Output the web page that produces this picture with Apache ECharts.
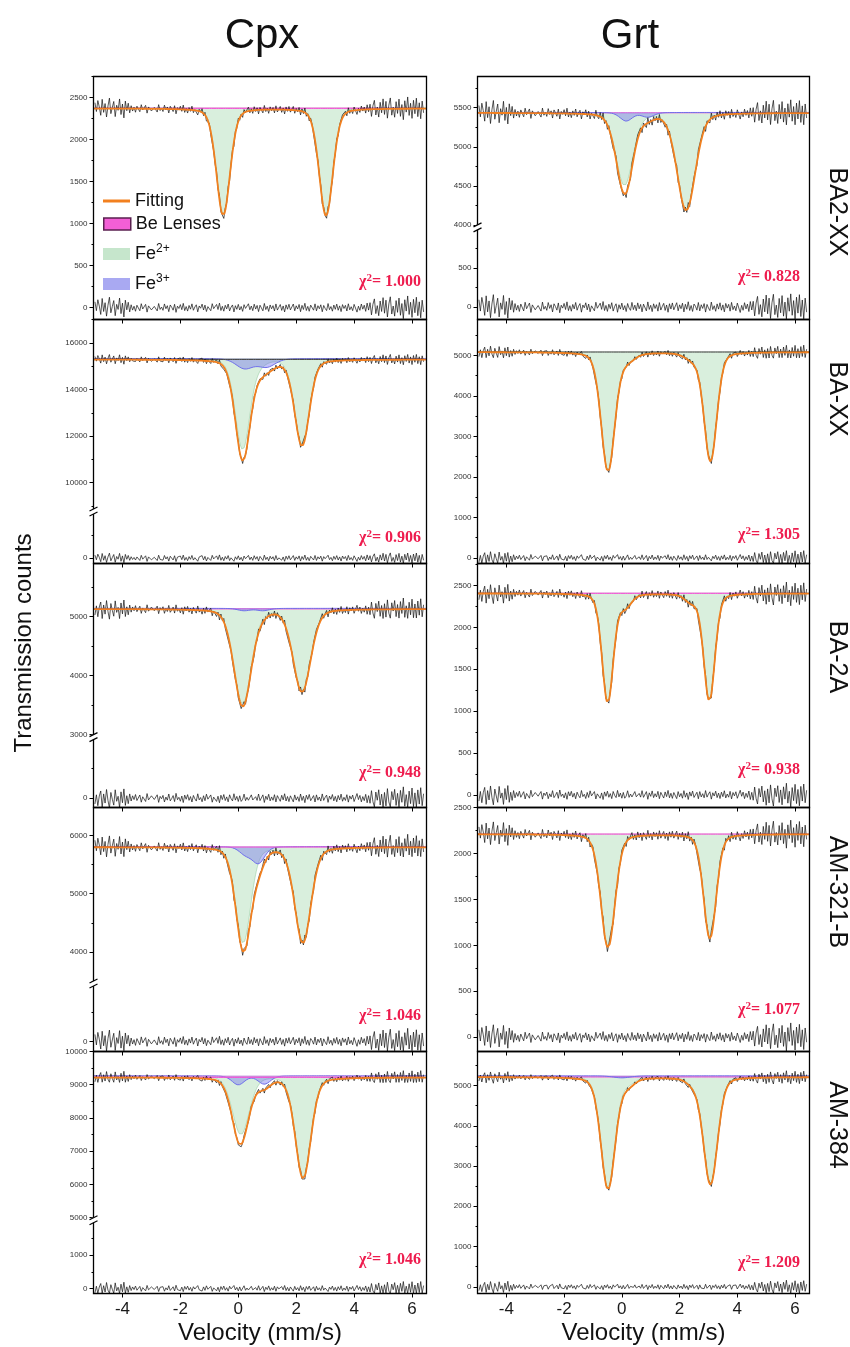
<!DOCTYPE html>
<html>
<head>
<meta charset="utf-8">
<title>Mössbauer spectra of Cpx and Grt</title>
<script src="https://cdn.jsdelivr.net/npm/echarts@6/dist/echarts.min.js"></script>
<style>
html, body { margin: 0; padding: 0; background: #fff; }
#chart { width: 850px; height: 1347px; }
</style>
</head>
<body>
<div id="chart"></div>
<script>
// ---------------- data ----------------
const samples = ['BA2-XX', 'BA-XX', 'BA-2A', 'AM-321-B', 'AM-384'];
const minerals = ['Cpx', 'Grt'];
const velocityTicks = [-4, -2, 0, 2, 4, 6];

const chiSquaredCpx = ['1.000', '0.906', '0.948', '1.046', '1.046'];
const chiSquaredGrt = ['0.828', '1.305', '0.938', '1.077', '1.209'];

// off-resonance background (counts) and Be-lens absorption below it
const backgroundCpx = [2385, 15335, 5140, 5810, 9270];
const backgroundGrt = [5440, 5100, 2415, 2218, 5240];
const beLensCpx = [15, 45, 10, 10, 50];
const beLensGrt = [5, 15, 10, 8, 30];

// fitted absorption lines: [position (mm/s), depth (counts), FWHM (mm/s)]
const fe2Cpx = [
  [[-0.52, 1270, 0.56], [3.03, 1275, 0.56]],
  [[0.15, 3900, 0.60], [2.20, 3700, 0.60], [0.75, 150, 0.50]],
  [[0.15, 1610, 0.72], [2.20, 1400, 0.72]],
  [[0.17, 1650, 0.62], [2.23, 1640, 0.66]],
  [[0.09, 1760, 0.69], [2.24, 3030, 0.63]]
];
const fe3Cpx = [
  [],
  [[0.22, 430, 0.70], [0.98, 360, 0.70]],
  [[0.20, 40, 0.50], [0.85, 40, 0.50]],
  [[0.25, 130, 0.50], [0.70, 280, 0.50]],
  [[0.00, 270, 0.50], [0.90, 250, 0.50]]
];
const fe2Grt = [
  [[0.09, 930, 0.69], [2.23, 1245, 0.75]],
  [[-0.48, 2940, 0.56], [3.07, 2690, 0.52], [0.20, 180, 0.60], [2.45, 150, 0.60]],
  [[-0.49, 1300, 0.46], [3.03, 1280, 0.46], [0.12, 150, 0.50], [2.40, 90, 0.50]],
  [[-0.48, 1235, 0.58], [3.05, 1135, 0.52]],
  [[-0.48, 2770, 0.58], [3.07, 2665, 0.58], [0.25, 140, 0.50], [2.45, 120, 0.50]]
];
const fe3Grt = [
  [[0.15, 110, 0.50], [0.90, 60, 0.50]],
  [],
  [],
  [],
  [[0.00, 50, 0.70]]
];

// residuals (counts) per channel, channels from -4.95 mm/s in 0.05 mm/s steps
const resCpxBA2XX = [
  70,-35,95,20,-80,110,-45,60,-100,30,
  125,-60,15,85,-95,40,-20,115,-70,55,
  -110,90,-25,65,-50,35,-28,18,-42,30,
  12,-36,48,-15,-5,40,-52,22,34,-26,
  -44,16,28,-38,50,-20,8,-31,45,-12,
  24,-47,33,6,-29,41,-55,19,-9,37,
  -23,52,-34,14,-40,27,-17,46,-30,9,
  35,-49,21,-6,43,-27,31,-45,13,26,
  -36,48,-11,-28,39,-21,55,-33,17,-41,
  29,-14,44,-38,7,33,-50,24,-19,40,
  -27,15,-43,36,-8,-31,47,-24,20,-35,
  42,-16,27,-46,30,11,-37,51,-22,18,
  -44,33,-13,25,-39,45,-28,6,38,-32,
  21,-50,34,-18,41,-26,-10,44,-36,23,
  -15,39,-47,28,-21,53,-33,16,-42,31,
  9,-29,46,-37,24,-12,35,-48,27,-8,
  -34,50,-23,14,-41,32,-19,43,-30,22,
  -46,37,-9,28,-39,47,-25,12,-35,40,
  26,-52,18,-31,44,-17,30,-43,55,-28,
  60,-85,40,105,-70,25,-95,80,-45,120,
  -65,90,-110,45,130,-75,20,-100,85,-55,
  115,-90,50,-130,95,-40,140,-80,65,-115,
  100,-60,125,-95,70,-120,90,-50
];
const resCpxBAXX = [
  135,-65,175,40,-150,205,-85,110,-180,55,
  220,-110,30,160,-175,75,-40,210,-130,100,
  -195,165,-45,120,-90,65,-52,34,-77,56,
  32,-95,125,-40,-14,105,-135,58,88,-68,
  -115,42,73,-100,130,-52,21,-82,118,-32,
  62,-122,86,16,-76,107,-143,50,-24,96,
  -60,135,-88,37,-104,70,-45,120,-78,24,
  91,-128,55,-16,112,-70,80,-117,34,68,
  -94,125,-29,-73,101,-55,143,-86,44,-107,
  75,-37,114,-99,18,86,-130,62,-50,104,
  -70,39,-112,94,-21,-81,122,-62,52,-91,
  109,-42,70,-120,78,29,-96,133,-57,47,
  -114,86,-34,65,-101,117,-73,16,99,-83,
  55,-130,88,-47,107,-68,-26,114,-94,60,
  -39,101,-122,73,-55,138,-86,42,-109,81,
  23,-75,120,-96,62,-31,91,-125,70,-21,
  -88,130,-60,36,-107,83,-49,112,-78,57,
  -120,96,-23,73,-101,122,-65,31,-91,104,
  68,-135,47,-81,114,-44,78,-112,143,-73,
  110,-155,75,190,-125,45,-170,145,-80,215,
  -120,165,-200,80,230,-135,36,-180,155,-100,
  210,-165,90,-215,170,-75,225,-145,120,-210,
  180,-110,225,-170,125,-215,165,-90
];
const resCpxBA2A = [
  -100,55,-130,35,120,-160,70,-85,145,-40,
  -170,95,-20,-120,140,-55,30,-160,105,-80,
  155,-125,40,-95,70,-50,38,-26,60,-42,
  -18,52,-70,22,8,-58,76,-32,-50,38,
  64,-24,-41,55,-73,29,-12,45,-66,17,
  -35,69,-48,-9,42,-60,80,-28,13,-54,
  34,-76,50,-20,58,-39,25,-67,44,-13,
  -51,72,-31,9,-63,39,-45,66,-19,-38,
  53,-70,16,41,-57,31,-80,48,-25,60,
  -42,20,-64,55,-10,-48,73,-35,28,-58,
  39,-57,-22,67,-44,12,-37,-16,54,-33,
  -61,23,-40,68,-44,-16,54,-75,32,-26,
  64,-48,19,-37,57,-66,41,-9,-55,47,
  -31,73,-50,26,-60,38,15,-64,53,-34,
  22,-57,69,-41,31,-78,48,-23,61,-45,
  -13,42,-67,54,-36,18,-51,70,-40,12,
  50,-73,34,-21,60,-47,28,-63,44,-32,
  67,-54,13,-41,57,-69,37,-18,51,-59,
  -38,76,-26,45,-64,25,-44,63,-80,41,
  -88,125,-60,-150,102,-37,140,-118,66,-155,
  95,-132,160,-65,-150,110,-30,148,-125,80,
  -150,130,-72,190,-138,58,-155,118,-95,170,
  -145,88,-150,138,-102,176,-130,74
];
const resCpxAM321B = [
  120,-60,155,40,-130,175,-75,100,-165,50,
  195,-100,25,140,-155,65,-35,185,-115,90,
  -160,145,-40,105,-80,58,-45,30,-68,48,
  20,-58,78,-25,-9,65,-84,36,55,-42,
  -71,26,45,-62,81,-32,13,-51,73,-20,
  39,-76,54,10,-47,66,-89,31,-15,60,
  -37,84,-55,23,-65,44,-28,75,-48,15,
  57,-79,34,-10,70,-44,50,-73,21,42,
  -58,78,-18,-45,63,-34,89,-53,27,-66,
  47,-23,71,-61,11,53,-81,39,-31,65,
  -44,24,-70,58,-13,-50,76,-39,32,-57,
  68,-26,44,-75,48,18,-60,83,-35,29,
  -71,53,-21,40,-63,73,-45,10,61,-52,
  34,-81,55,-29,66,-42,-16,71,-58,37,
  -24,63,-76,45,-34,86,-53,26,-68,50,
  14,-47,75,-60,39,-19,57,-78,44,-13,
  -55,81,-37,22,-66,52,-31,70,-49,36,
  -75,60,-15,45,-63,76,-40,19,-57,65,
  42,-84,29,-50,71,-27,48,-70,89,-45,
  95,-140,65,170,-115,40,-155,130,-75,195,
  -105,145,-165,70,210,-120,32,-160,140,-90,
  185,-145,80,-165,150,-65,225,-130,105,-160,
  160,-95,200,-150,115,-160,145,-80
];
const resCpxAM384 = [
  -130,70,-145,45,150,-140,85,-105,180,-50,
  -140,115,-25,-140,170,-70,38,-145,130,-100,
  190,-140,50,-115,88,-62,47,-32,74,-52,
  -22,64,-86,27,10,-71,93,-39,-62,47,
  79,-30,-50,68,-90,36,-15,55,-81,21,
  -43,85,-59,-11,52,-74,98,-34,16,-66,
  42,-93,62,-25,71,-48,31,-82,54,-16,
  -63,88,-38,11,-77,48,-55,81,-23,-47,
  65,-86,20,50,-70,38,-98,59,-31,74,
  -52,25,-79,68,-12,-59,90,-43,34,-71,
  48,-70,-27,82,-54,15,-46,-20,66,-41,
  -75,28,-49,84,-54,-20,66,-92,39,-32,
  79,-59,23,-46,70,-81,50,-11,-68,58,
  -38,90,-62,32,-74,47,18,-79,65,-42,
  27,-70,85,-50,38,-96,59,-28,75,-55,
  -16,52,-82,66,-44,22,-63,86,-49,15,
  62,-90,42,-26,74,-58,34,-78,54,-39,
  82,-66,16,-50,70,-85,46,-22,63,-73,
  -47,93,-32,55,-79,31,-54,77,-98,50,
  -105,150,-72,-140,122,-44,168,-141,79,-148,
  114,-140,190,-78,-145,132,-36,177,-140,96,
  -140,156,-86,210,-148,70,-145,141,-114,204,
  -148,105,-145,165,-122,210,-140,89
];
const resGrtBA2XX = [
  95,-50,125,30,-105,145,-60,80,-135,40,
  160,-80,20,115,-125,55,-28,150,-95,72,
  -140,118,-33,85,-65,46,-38,24,-55,40,
  16,-48,63,-20,-7,53,-68,29,44,-34,
  -58,21,37,-50,65,-26,11,-41,59,-16,
  31,-61,43,8,-38,54,-72,25,-12,48,
  -30,68,-44,19,-52,35,-22,60,-39,12,
  46,-64,28,-8,56,-35,40,-59,17,34,
  -47,63,-14,-36,51,-28,72,-43,22,-54,
  38,-19,57,-50,9,43,-65,31,-25,52,
  -35,20,-56,47,-11,-41,61,-31,26,-46,
  55,-21,35,-60,39,14,-48,67,-29,24,
  -57,43,-17,32,-51,59,-37,8,49,-42,
  28,-65,44,-24,54,-34,-13,57,-47,30,
  -20,51,-61,37,-27,69,-43,21,-55,40,
  12,-38,60,-48,31,-16,46,-63,35,-10,
  -44,65,-30,18,-53,42,-25,56,-39,29,
  -60,48,-12,36,-51,61,-32,15,-46,52,
  34,-68,23,-40,57,-22,39,-56,72,-36,
  75,-112,52,138,-92,32,-124,104,-60,155,
  -85,116,-145,56,165,-96,26,-132,112,-72,
  148,-115,65,-150,120,-52,170,-104,84,-150,
  128,-76,160,-120,92,-150,116,-64
];
const resGrtBAXX = [
  -110,60,-135,38,125,-135,72,-90,150,-45,
  -135,98,-22,-128,140,-60,33,-138,110,-85,
  130,-120,43,-98,74,-53,40,-28,63,-44,
  -19,55,-74,23,9,-61,80,-34,-53,40,
  68,-26,-43,58,-77,31,-13,48,-70,18,
  -37,73,-51,-9,45,-64,85,-30,14,-57,
  36,-80,53,-21,61,-41,27,-71,46,-14,
  -54,76,-33,10,-66,41,-47,70,-20,-40,
  56,-74,17,43,-60,33,-85,51,-26,64,
  -45,21,-68,58,-10,-51,78,-37,29,-61,
  41,-60,-23,71,-47,13,-39,-17,57,-35,
  -65,24,-42,72,-47,-17,57,-80,34,-28,
  68,-51,20,-39,60,-70,43,-9,-58,50,
  -33,77,-53,28,-64,40,16,-68,56,-36,
  23,-60,73,-43,33,-83,51,-24,65,-47,
  -14,45,-71,57,-38,19,-54,74,-42,13,
  53,-77,36,-22,64,-50,29,-67,47,-34,
  71,-57,14,-43,60,-73,39,-19,54,-63,
  -40,80,-28,48,-68,27,-47,67,-85,43,
  -92,128,-62,-138,104,-38,140,-120,68,-140,
  98,-135,150,-67,-140,112,-31,150,-128,82,
  -130,133,-74,175,-135,60,-140,120,-97,172,
  -135,90,-138,141,-104,176,-130,76
];
const resGrtBA2A = [
  -75,40,-95,25,88,-115,50,-62,105,-30,
  -120,68,-15,-90,100,-40,22,-115,75,-58,
  110,-90,30,-68,50,-36,27,-19,43,-30,
  -13,37,-50,16,6,-41,54,-23,-36,27,
  46,-17,-29,39,-52,21,-9,32,-47,12,
  -25,49,-34,-6,30,-43,57,-20,9,-38,
  24,-54,36,-14,41,-28,18,-48,31,-9,
  -36,51,-22,6,-45,28,-32,47,-13,-27,
  38,-50,11,29,-41,22,-57,34,-18,43,
  -30,14,-46,39,-7,-34,52,-25,20,-41,
  28,-41,-16,48,-31,9,-26,-11,38,-24,
  -44,16,-28,49,-31,-11,38,-54,23,-19,
  46,-34,13,-26,41,-47,29,-6,-39,34,
  -22,52,-36,18,-43,27,11,-46,38,-24,
  16,-41,49,-29,22,-56,34,-16,44,-32,
  -9,30,-48,38,-26,13,-36,50,-28,9,
  36,-52,24,-15,43,-34,20,-45,31,-23,
  48,-38,9,-29,41,-49,27,-13,36,-42,
  -27,54,-18,32,-46,18,-31,45,-57,29,
  -65,92,-44,-110,75,-27,104,-85,48,-125,
  70,-97,118,-48,-135,80,-22,108,-92,58,
  -120,95,-52,138,-100,42,-145,86,-70,125,
  -105,64,-132,100,-75,128,-95,54
];
const resGrtAM321B = [
  80,-42,105,25,-90,122,-50,68,-112,34,
  135,-68,18,96,-106,46,-24,128,-80,62,
  -120,100,-28,72,-56,40,-32,20,-47,34,
  14,-40,54,-17,-6,45,-58,25,38,-29,
  -49,18,31,-43,56,-22,9,-35,51,-14,
  27,-52,37,7,-33,46,-61,22,-10,41,
  -26,58,-38,16,-45,30,-19,52,-33,10,
  39,-55,24,-7,48,-30,34,-50,15,29,
  -40,54,-12,-31,44,-24,61,-37,19,-46,
  32,-16,49,-42,8,37,-56,27,-21,45,
  -30,17,-48,40,-9,-35,52,-27,22,-39,
  47,-18,30,-52,33,12,-41,57,-24,20,
  -49,37,-14,28,-43,50,-31,7,42,-36,
  24,-56,38,-20,46,-29,-11,49,-40,26,
  -17,43,-52,31,-23,59,-37,18,-47,34,
  10,-32,52,-41,27,-13,39,-54,30,-9,
  -38,56,-26,15,-45,36,-21,48,-34,25,
  -52,41,-10,31,-44,52,-28,13,-39,45,
  29,-58,20,-34,49,-19,33,-48,61,-31,
  65,-97,45,118,-80,28,-107,90,-52,135,
  -73,100,-125,48,145,-83,22,-114,97,-62,
  128,-100,56,-150,104,-45,155,-90,73,-140,
  110,-66,140,-104,80,-135,100,-55
];
const resGrtAM384 = [
  -95,52,-120,32,110,-140,62,-78,130,-38,
  -150,85,-19,-112,125,-50,28,-140,95,-72,
  138,-112,38,-85,64,-45,34,-24,54,-38,
  -16,47,-63,20,8,-52,68,-29,-45,34,
  58,-22,-37,50,-66,26,-11,41,-60,15,
  -31,62,-43,-8,38,-54,72,-25,12,-48,
  31,-68,45,-18,52,-35,23,-60,39,-12,
  -46,64,-28,8,-56,35,-40,59,-17,-34,
  48,-63,15,37,-51,28,-72,43,-22,54,
  -38,18,-58,49,-9,-43,66,-31,25,-52,
  35,-51,-20,60,-40,11,-33,-14,48,-30,
  -55,20,-36,61,-40,-14,48,-68,29,-24,
  58,-43,17,-33,51,-60,37,-8,-49,42,
  -28,66,-45,23,-54,34,13,-58,48,-31,
  20,-51,62,-37,28,-70,43,-20,55,-40,
  -12,38,-60,48,-32,16,-46,63,-36,11,
  45,-66,31,-19,54,-42,25,-57,40,-29,
  60,-48,12,-37,51,-62,33,-16,46,-54,
  -34,68,-24,41,-58,23,-40,57,-72,37,
  -80,110,-55,-130,90,-32,120,-102,58,-150,
  85,-118,140,-58,-160,97,-26,130,-110,70,
  -145,114,-63,165,-120,50,-160,104,-83,150,
  -125,78,-158,120,-90,152,-112,66
];

// y-axis ranges of the spectrum part (upper) and the residual part (lower)
const upperRangeCpx = [[700, 2750], [8860, 17010], [3000, 5900], [3500, 6480], [5000, 10000]];
const lowerRangeCpx = [[-140, 700], [-226, 1900], [-160, 990], [-173, 950], [-150, 1980]];
const upperRangeGrt = [[4000, 5900], [600, 5890], [700, 2762], [700, 2500], [600, 5844]];
const lowerRangeGrt = [[-158, 990], [-142, 600], [-152, 700], [-156, 700], [-166, 600]];
const brokenCpx = [false, true, true, true, true];
const brokenGrt = [true, false, false, false, false];

// labelled y ticks and minor tick steps
const yTicksCpx = [
  [0, 500, 1000, 1500, 2000, 2500],
  [0, 10000, 12000, 14000, 16000],
  [0, 3000, 4000, 5000],
  [0, 4000, 5000, 6000],
  [0, 1000, 5000, 6000, 7000, 8000, 9000, 10000]
];
const yTicksGrt = [
  [0, 500, 4000, 4500, 5000, 5500],
  [0, 1000, 2000, 3000, 4000, 5000],
  [0, 500, 1000, 1500, 2000, 2500],
  [0, 500, 1000, 1500, 2000, 2500],
  [0, 1000, 2000, 3000, 4000, 5000]
];
const yMinorStepCpx = [250, 1000, 500, 500, 500];
const yMinorStepGrt = [250, 500, 250, 250, 500];

// ---------------- layout & style ----------------
const SANS = '"Liberation Sans", Arial, sans-serif';
const SERIF = '"Liberation Serif", "Times New Roman", serif';
const colLeft = [93.5, 477.5];
const colWidth = [333, 332];
const rowTop = [76.5, 319.5, 563.5, 807.5, 1051.5];
const rowBottom = [319.5, 563.5, 807.5, 1051.5, 1293.5];
const breakGap = 5;
const sideLabelY = [212, 399, 657, 892, 1125];
const chiY = [[282, 538, 773, 1016, 1260], [277, 535, 770, 1010, 1263]];
const chiRight = [421, 800];
// which curve sits on top of the background line in each panel
const topLine = [['be', 'dark', 'fe3', 'be', 'be'], ['fe3', 'dark', 'be', 'be', 'fe3']];

const COLORS = {
  fit: '#f2801f',
  fe2Fill: 'rgba(168,218,176,0.62)',
  fe2Line: 'rgba(120,190,135,0.7)',
  fe3Fill: 'rgba(112,112,236,0.6)',
  fe3Line: '#7070ea',
  beFill: 'rgba(243,90,214,0.75)',
  beLine: '#f254d6',
  dark: '#4a4a4a',
  data: '#111',
  chi: '#ee1c4e'
};

// pseudo-Voigt line shape of the fitted components
const lorentzFraction = 0.22;
function lineShape(v, centre, fwhm) {
  const x = (v - centre) / (fwhm / 2);
  return lorentzFraction / (1 + x * x) + (1 - lorentzFraction) * Math.exp(-Math.LN2 * x * x);
}
function absorption(lines, v) {
  return lines.reduce((s, l) => s + l[1] * lineShape(v, l[0], l[2]), 0);
}

const fineVelocity = [];
for (let i = 0; i <= 575; i++) fineVelocity.push(+(-5 + i * 0.02).toFixed(2));
const channelVelocity = i => +(-4.95 + i * 0.05).toFixed(2);

const columns = [
  { bg: backgroundCpx, be: beLensCpx, fe2: fe2Cpx, fe3: fe3Cpx,
    res: [resCpxBA2XX, resCpxBAXX, resCpxBA2A, resCpxAM321B, resCpxAM384],
    up: upperRangeCpx, low: lowerRangeCpx, broken: brokenCpx,
    ticks: yTicksCpx, minor: yMinorStepCpx, chi: chiSquaredCpx },
  { bg: backgroundGrt, be: beLensGrt, fe2: fe2Grt, fe3: fe3Grt,
    res: [resGrtBA2XX, resGrtBAXX, resGrtBA2A, resGrtAM321B, resGrtAM384],
    up: upperRangeGrt, low: lowerRangeGrt, broken: brokenGrt,
    ticks: yTicksGrt, minor: yMinorStepGrt, chi: chiSquaredGrt }
];

const grids = [], xAxes = [], yAxes = [], series = [], graphics = [];

function addGrid(x, y, w, h, yMin, yMax, majors, minorStep, showXTicks, showXLabels) {
  const gi = grids.length;
  grids.push({ left: x, top: y, width: w, height: h, show: false });
  xAxes.push({
    type: 'value', gridIndex: gi, min: -5, max: 6.5, position: 'bottom',
    axisLine: { show: false, onZero: false }, splitLine: { show: false },
    axisTick: { show: showXTicks, customValues: velocityTicks, inside: false, length: 4,
      lineStyle: { color: '#000', width: 1 } },
    axisLabel: { show: showXLabels, customValues: velocityTicks, fontSize: 17, color: '#1a1a1a',
      margin: 7, fontFamily: SANS },
    name: showXLabels ? 'Velocity (mm/s)' : '', nameLocation: 'middle', nameGap: 28,
    nameTextStyle: { fontSize: 24, color: '#111', fontFamily: SANS }
  });
  const maj = majors.filter(t => t >= yMin - 1e-6 && t <= yMax + 1e-6);
  const minors = [];
  for (let t = Math.ceil(yMin / minorStep) * minorStep; t <= yMax; t += minorStep) {
    if (!majors.includes(t)) minors.push(t);
  }
  const yi = yAxes.length;
  yAxes.push({
    type: 'value', gridIndex: gi, min: yMin, max: yMax, position: 'left',
    axisLine: { show: false, onZero: false }, splitLine: { show: false },
    axisTick: { show: maj.length > 0, customValues: maj, length: 4, lineStyle: { color: '#000', width: 1 } },
    axisLabel: { show: maj.length > 0, customValues: maj, fontSize: 8, color: '#333', margin: 6,
      fontFamily: SANS, formatter: v => String(v) }
  });
  yAxes.push({
    type: 'value', gridIndex: gi, min: yMin, max: yMax, position: 'left',
    axisLine: { show: false, onZero: false }, splitLine: { show: false },
    axisTick: { show: minors.length > 0, customValues: minors, length: 2, lineStyle: { color: '#000', width: 1 } },
    axisLabel: { show: false }
  });
  return { gi, yi };
}

for (let c = 0; c < 2; c++) {
  const col = columns[c];
  for (let r = 0; r < 5; r++) {
    const left = colLeft[c], width = colWidth[c];
    const top = rowTop[r], height = rowBottom[r] - rowTop[r];
    const broken = col.broken[r];
    const gap = broken ? breakGap : 0;
    const up = col.up[r], low = col.low[r];
    const k = (height - gap) / ((up[1] - up[0]) + (low[1] - low[0]));
    const upperH = (up[1] - up[0]) * k;
    const lowerH = (low[1] - low[0]) * k;

    const U = addGrid(left, top, width, upperH, up[0], up[1], col.ticks[r], col.minor[r], false, false);
    const L = addGrid(left, top + upperH + gap, width, lowerH, low[0], low[1], col.ticks[r], col.minor[r], true, r === 4);

    const B = col.bg[r], be = col.be[r], fe2 = col.fe2[r], fe3 = col.fe3[r], res = col.res[r];
    const fit = v => B - be - absorption(fe2, v) - absorption(fe3, v);
    const tl = topLine[c][r];
    const common = { type: 'line', xAxisIndex: U.gi, yAxisIndex: U.yi, symbol: 'none', showSymbol: false,
      silent: true, animation: false };

    series.push(Object.assign({}, common, {
      name: 'Fe2+', z: 2,
      data: fineVelocity.map(v => [v, B - absorption(fe2, v)]),
      lineStyle: { color: COLORS.fe2Line, width: 0.6 },
      areaStyle: { color: COLORS.fe2Fill, origin: B }
    }));
    if (fe3.length) {
      series.push(Object.assign({}, common, {
        name: 'Fe3+', z: tl === 'fe3' ? 4 : 3,
        data: fineVelocity.map(v => [v, B - absorption(fe3, v)]),
        lineStyle: { color: COLORS.fe3Line, width: 1 },
        areaStyle: { color: COLORS.fe3Fill, origin: B }
      }));
    }
    series.push(Object.assign({}, common, {
      name: 'Be Lenses', z: tl === 'fe3' ? 3 : 4,
      data: fineVelocity.map(v => [v, B - be]),
      lineStyle: { color: tl === 'dark' ? COLORS.dark : COLORS.beLine, width: 1 },
      areaStyle: { color: tl === 'dark' ? 'rgba(70,70,70,0.6)' : COLORS.beFill, origin: B }
    }));
    series.push(Object.assign({}, common, {
      name: 'Data', z: 5,
      data: res.map((d, i) => { const v = channelVelocity(i); return [v, fit(v) + d]; }),
      lineStyle: { color: COLORS.data, width: 0.7 }
    }));
    series.push(Object.assign({}, common, {
      name: 'Fitting', z: 6,
      data: fineVelocity.map(v => [v, fit(v)]),
      lineStyle: { color: COLORS.fit, width: 1.8 }
    }));
    series.push(Object.assign({}, common, {
      name: 'Residual', z: 5, xAxisIndex: L.gi, yAxisIndex: L.yi,
      data: res.map((d, i) => [channelVelocity(i), d]),
      lineStyle: { color: COLORS.data, width: 0.7 }
    }));

    // panel frame
    graphics.push({ type: 'rect', z: 100, silent: true,
      shape: { x: left, y: top, width: width, height: height },
      style: { fill: 'none', stroke: '#000', lineWidth: 1.3 } });

    // axis break marks
    if (broken) {
      const y1 = top + upperH, y2 = y1 + gap;
      graphics.push({ type: 'rect', z: 101, silent: true,
        shape: { x: left - 2, y: y1, width: 4, height: gap }, style: { fill: '#fff' } });
      graphics.push({ type: 'line', z: 102, silent: true,
        shape: { x1: left - 4, y1: y1 + 2, x2: left + 4, y2: y1 - 2 }, style: { stroke: '#000', lineWidth: 1.2 } });
      graphics.push({ type: 'line', z: 102, silent: true,
        shape: { x1: left - 4, y1: y2 + 2, x2: left + 4, y2: y2 - 2 }, style: { stroke: '#000', lineWidth: 1.2 } });
    }

    // chi-squared of the fit
    graphics.push({ type: 'text', z: 103, silent: true, x: chiRight[c], y: chiY[c][r],
      style: {
        text: '{g|χ}{s|2}{g|= ' + col.chi[r] + '}',
        align: 'right', textAlign: 'right', verticalAlign: 'middle', textVerticalAlign: 'middle',
        fill: COLORS.chi,
        rich: {
          g: { fontSize: 16, fontWeight: 'bold', fontFamily: SERIF, fill: COLORS.chi, lineHeight: 19 },
          s: { fontSize: 11, fontWeight: 'bold', fontFamily: SERIF, fill: COLORS.chi, verticalAlign: 'top', lineHeight: 11 }
        }
      } });
  }
}

// column titles
minerals.forEach((m, c) => {
  graphics.push({ type: 'text', silent: true, x: [262, 630][c], y: 36,
    style: { text: m, font: '42px ' + SANS, fill: '#111', align: 'center', textAlign: 'center',
      verticalAlign: 'middle', textVerticalAlign: 'middle' } });
});
// sample names on the right
samples.forEach((s, r) => {
  graphics.push({ type: 'text', silent: true, x: 837, y: sideLabelY[r], rotation: -Math.PI / 2,
    style: { text: s, font: '25px ' + SANS, fill: '#111', align: 'center', textAlign: 'center',
      verticalAlign: 'middle', textVerticalAlign: 'middle' } });
});
// shared y title
graphics.push({ type: 'text', silent: true, x: 24, y: 643, rotation: Math.PI / 2,
  style: { text: 'Transmission counts', font: '24px ' + SANS, fill: '#111', align: 'center', textAlign: 'center',
    verticalAlign: 'middle', textVerticalAlign: 'middle' } });

// legend entries (one block per line so they sit like the stacked key)
const legendRich = {
  t: { fontSize: 18, fontFamily: SANS, color: '#111', lineHeight: 22 },
  sup: { fontSize: 12, fontFamily: SANS, color: '#111', verticalAlign: 'top', lineHeight: 12 }
};
const legendFormatter = name => {
  if (name === 'Fe2+') return '{t|Fe}{sup|2+}';
  if (name === 'Fe3+') return '{t|Fe}{sup|3+}';
  return '{t|' + name + '}';
};
const legendItems = [
  { name: 'Fitting', top: 192, h: 3, itemStyle: { color: COLORS.fit, borderWidth: 0 } },
  { name: 'Be Lenses', top: 215, h: 12, itemStyle: { color: '#f35fd6', borderColor: '#5b2150', borderWidth: 1.5 } },
  { name: 'Fe2+', top: 243, h: 12, itemStyle: { color: '#c6e6cc', borderWidth: 0 } },
  { name: 'Fe3+', top: 273, h: 12, itemStyle: { color: '#a9a9f2', borderWidth: 0 } }
];
const legends = legendItems.map(it => ({
  data: [{ name: it.name, icon: 'rect', itemStyle: it.itemStyle }],
  left: 103, top: it.top, orient: 'vertical', selectedMode: false,
  itemWidth: 27, itemHeight: it.h, padding: 0,
  formatter: legendFormatter, textStyle: { fontSize: 18, color: '#111', fontFamily: SANS, rich: legendRich }
}));

const chart = echarts.init(document.getElementById('chart'), null, { renderer: 'canvas' });
chart.setOption({
  backgroundColor: '#fff',
  animation: false,
  legend: legends,
  grid: grids,
  xAxis: xAxes,
  yAxis: yAxes,
  series: series,
  graphic: { elements: graphics }
});
</script>
</body>
</html>
